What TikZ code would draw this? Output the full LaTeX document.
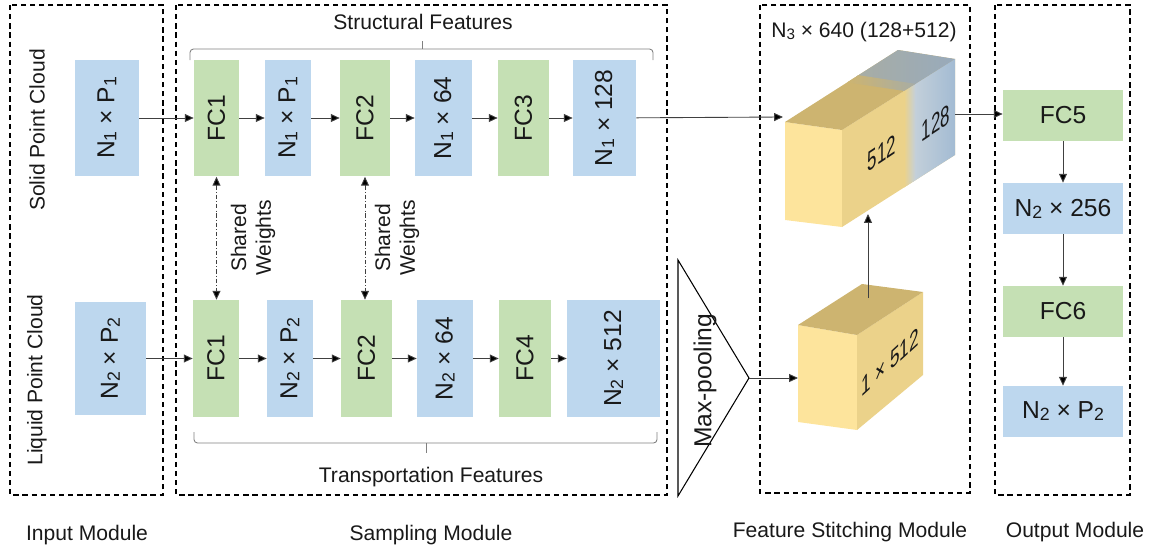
\documentclass[tikz,border=0pt]{standalone}
\usepackage{fontspec}
\setmainfont{Liberation Sans}
\usetikzlibrary{arrows.meta,calc}
\definecolor{boxblue}{HTML}{BDD7EE}
\definecolor{boxgreen}{HTML}{C5E0B4}
\definecolor{cubefront}{HTML}{FDE49C}
\definecolor{cubeside}{HTML}{EBD28A}
\definecolor{cubetop}{HTML}{CDB470}
\definecolor{sidebluel}{HTML}{C4D0DA}
\definecolor{sidebluer}{HTML}{A3BBD3}
\definecolor{topblue}{HTML}{98AABB}
\definecolor{linegray}{HTML}{404040}
\newcommand{\idx}[1]{\raisebox{-0.15ex}{\scalebox{0.72}{#1}}}
\tikzset{
  every node/.style={font=\fontsize{12}{14}\selectfont, text=black!90},
  blk/.style={inner sep=0pt, font=\fontsize{14}{16}\selectfont},
  blu/.style={blk, fill=boxblue},
  grn/.style={blk, fill=boxgreen},
  col/.style={rotate=90, minimum width=2.34cm},
  row/.style={minimum width=2.4cm, minimum height=1.02cm},
  modbox/.style={draw, dash pattern=on 3pt off 2.2pt, line width=0.6pt},
  arr/.style={draw=linegray, line width=0.5pt, -{Triangle[length=5pt,width=4.5pt,fill=black]}},
  sharedarr/.style={draw=linegray, line width=0.5pt, dash pattern=on 2.5pt off 1.2pt on 0.4pt off 1.2pt,
    {Triangle[length=5pt,width=4.5pt,fill=black]}-{Triangle[length=5pt,width=4.5pt,fill=black]}},
  brace/.style={draw=gray, line width=0.5pt, rounded corners=2pt},
  cubetxt/.style={font=\fontsize{16}{18}\selectfont, inner sep=0pt}
}

\begin{document}
\begin{tikzpicture}[x=0.02cm, y=-0.02cm]
  \useasboundingbox (0,0) rectangle (1153,551);

  % module frames
  \draw[modbox] (10,5) rectangle (163,495);
  \draw[modbox] (176,5) rectangle (667,495);
  \draw[modbox] (760,5) rectangle (970,493);
  \draw[modbox] (995,5) rectangle (1130,495);
  \node (lin) at (87,535) {Input Module};
  \node (lsam) at (431,535) {Sampling Module};
  \node (lfs) at (850,532) {Feature Stitching Module};
  \node (lout) at (1075,532) {Output Module};

  % input module
  \node[rotate=90] (solid) at (37,130) {Solid Point Cloud};
  \node[rotate=90] (liquid) at (37,380) {Liquid Point Cloud};
  \node[blu,col,minimum height=1.28cm] (in1) at (107,118) {N\idx{1} × P\idx{1}};
  \node[blu,col,minimum width=2.26cm,minimum height=1.42cm] (in2) at (110.5,358.5) {N\idx{2} × P\idx{2}};

  % sampling module, upper row
  \node[grn,col,minimum height=0.9cm] (fc1a) at (216.5,118) {FC1};
  \node[blu,col,minimum height=0.92cm] (s1a) at (288,118) {N\idx{1} × P\idx{1}};
  \node[grn,col,minimum height=1.0cm] (fc2a) at (365,118) {FC2};
  \node[blu,col,minimum height=1.14cm] (s2a) at (443.5,118) {N\idx{1} × 64};
  \node[grn,col,minimum height=1.02cm] (fc3) at (523.5,118) {FC3};
  \node[blu,col,minimum height=1.26cm] (s3a) at (604.5,118) {N\idx{1} × 128};

  % sampling module, lower row
  \node[grn,col,minimum height=0.92cm] (fc1b) at (216,358.5) {FC1};
  \node[blu,col,minimum height=0.92cm] (s1b) at (290,358.5) {N\idx{2} × P\idx{2}};
  \node[grn,col,minimum height=1.02cm] (fc2b) at (366.5,358.5) {FC2};
  \node[blu,col,minimum height=1.12cm] (s2b) at (445,358.5) {N\idx{2} × 64};
  \node[grn,col,minimum height=1.04cm] (fc4) at (525,358.5) {FC4};
  \node[blu,col,minimum height=1.86cm] (s3b) at (613.5,358.5) {N\idx{2} × 512};

  % braces
  \draw[brace] (190,60) -- (190,49) -- (653,49) -- (653,60);
  \draw[brace] (422,49) -- (422,41);
  \node (struct) at (423,22) {Structural Features};
  \draw[brace] (194,432) -- (194,443) -- (657,443) -- (657,432);
  \draw[brace] (426,443) -- (426,453);
  \node (transp) at (431,477) {Transportation Features};

  % shared weights
  \draw[sharedarr] (fc1a.west) -- (fc1a.west |- fc1b.east);
  \draw[sharedarr] (fc2a.west) -- (fc2a.west |- fc2b.east);
  \node[rotate=90,align=center] (sw1) at (253,238) {Shared\\Weights};
  \node[rotate=90,align=center] (sw2) at (397,238) {Shared\\Weights};

  % max-pooling
  \coordinate (poolapex) at (749,378);
  \draw[line width=0.6pt] (678,260) -- (poolapex) -- (678,496) -- cycle;
  \node[rotate=90,font=\fontsize{14}{16}\selectfont] (pool) at (705,381) {Max-pooling};

  % big cube
  \coordinate (bA) at (785,122);
  \coordinate (bB) at (842,130);
  \coordinate (bC) at (842,227);
  \coordinate (bD) at (785,220);
  \coordinate (bE) at (898,50);
  \coordinate (bF) at (955,59);
  \coordinate (bG) at (955,155);
  \coordinate (bA1) at ($(bA)!0.55!(bE)$);
  \coordinate (bB1) at ($(bB)!0.55!(bF)$);
  \coordinate (bC1) at ($(bC)!0.55!(bG)$);
  \coordinate (bA2) at ($(bA)!0.63!(bE)$);
  \coordinate (bB2) at ($(bB)!0.63!(bF)$);
  \coordinate (bC2) at ($(bC)!0.63!(bG)$);
  \coordinate (bA3) at ($(bA)!0.65!(bE)$);
  \coordinate (bB3) at ($(bB)!0.65!(bF)$);
  \coordinate (bC3) at ($(bC)!0.65!(bG)$);
  \fill[cubefront] (bA) -- (bB) -- (bC) -- (bD) -- cycle;
  \fill[cubeside] (bB) -- (bF) -- (bG) -- (bC) -- cycle;
  \fill[cubetop] (bA) -- (bB) -- (bF) -- (bE) -- cycle;
  \shade[left color=sidebluel, right color=sidebluer] (bB2) -- (bF) -- (bG) -- (bC2) -- cycle;
  \shade[left color=cubeside, right color=sidebluel] (bB1) -- (bB3) -- (bC3) -- (bC1) -- cycle;
  \shade[left color=topblue!70!cubetop, right color=topblue] (bA2) -- (bB2) -- (bF) -- (bE) -- cycle;
  \shade[left color=cubetop, right color=topblue!70!cubetop] (bA1) -- (bB1) -- (bB3) -- (bA3) -- cycle;
  \node[cubetxt,xscale=0.6,yslant=0.4] (t512) at (882,153) {512};
  \node[cubetxt,xscale=0.6,yslant=0.4] (t128) at (936,123) {128};
  \node (dims) at (864,32) {N\idx{3} × 640 (128+512)};
  \coordinate (bigin) at (783,117);
  \coordinate (bigout) at (955,114);
  \coordinate (bigbot) at (868,214);

  % small cube
  \coordinate (sP) at (798,325);
  \coordinate (sQ) at (857,335);
  \coordinate (sR) at (857,430);
  \coordinate (sS) at (798,422);
  \coordinate (sT) at (862,284);
  \coordinate (sU) at (923,292);
  \coordinate (sV) at (923,375);
  \fill[cubefront] (sP) -- (sQ) -- (sR) -- (sS) -- cycle;
  \fill[cubeside] (sQ) -- (sU) -- (sV) -- (sR) -- cycle;
  \fill[cubetop] (sP) -- (sQ) -- (sU) -- (sT) -- cycle;
  \node[cubetxt,font=\fontsize{15}{17}\selectfont,xscale=0.65,yslant=0.6] (t1x512) at (890,362) {1 × 512};
  \coordinate (smallin) at (798,378);
  \coordinate (smalltop) at (868,298);

  % output module
  \node[grn,row] (fc5) at (1063,115.5) {FC5};
  \node[blu,row] (s4) at (1063,208.5) {N\idx{2} × 256};
  \node[grn,row] (fc6) at (1063,311.5) {FC6};
  \node[blu,row] (res) at (1063,411.5) {N\idx{2} × P\idx{2}};

  % connectors
  \foreach \a/\b in {in1/fc1a, fc1a/s1a, s1a/fc2a, fc2a/s2a, s2a/fc3, fc3/s3a,
                     in2/fc1b, fc1b/s1b, s1b/fc2b, fc2b/s2b, s2b/fc4, fc4/s3b,
                     fc5/s4, s4/fc6, fc6/res}
    \draw[arr] (\a) -- (\b);
  \draw[arr] (s3a) -- (bigin);
  \draw[arr] (bigout) -- (bigout -| fc5.west);
  \draw[arr] (poolapex) -- (smallin);
  \draw[arr] (smalltop) -- (bigbot);
\end{tikzpicture}
\end{document}
